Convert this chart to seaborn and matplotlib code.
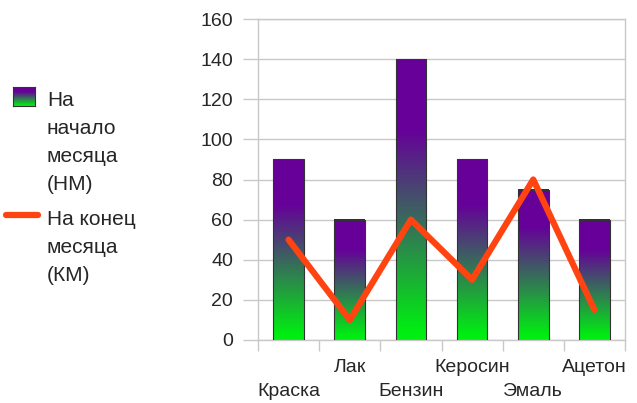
import numpy as np
import pandas as pd
import seaborn as sns
import matplotlib.pyplot as plt
from matplotlib.colors import to_rgb
from matplotlib.lines import Line2D
from matplotlib.transforms import ScaledTranslation

# данные
tovary = ['Краска', 'Лак', 'Бензин', 'Керосин', 'Эмаль', 'Ацетон']
nachalo = [90, 60, 140, 90, 75, 60]
konec = [50, 10, 60, 30, 80, 15]

df = pd.DataFrame({'Товар': tovary, 'НМ': nachalo, 'КМ': konec})

sns.set_style('white')
plt.rcParams['font.family'] = ['Liberation Sans', 'DejaVu Sans']

purple = np.array(to_rgb('#660099'))
green = np.array(to_rgb('#00ee11'))


def gradient(n=200):
    t = np.linspace(0, 1, n)
    t = np.clip((t - 0.03) / 0.72, 0, 1)
    img = green[None, :] * (1 - t[:, None]) + purple[None, :] * t[:, None]
    return img[:, None, :]


fig = plt.figure(figsize=(6.37, 4.03), dpi=100)
ax = fig.add_axes([258 / 637, 1 - 340 / 403, (625 - 258) / 637, (340 - 19) / 403])

sns.barplot(data=df, x='Товар', y='НМ', ax=ax, width=0.5, color='white',
            edgecolor='#333333', linewidth=0.8, zorder=3)

grad = gradient()
for p in ax.patches:
    x, w, h = p.get_x(), p.get_width(), p.get_height()
    p.set_facecolor('none')
    ax.imshow(grad, extent=[x, x + w, 0, h], aspect='auto', origin='lower',
              interpolation='bilinear', zorder=2.5)

sns.lineplot(x=np.arange(len(tovary)), y=konec, ax=ax, color='#ff4411',
             linewidth=4.5, zorder=4)

ax.set_xlim(-0.5, 5.5)
ax.set_ylim(0, 160)
ax.set_yticks(range(0, 161, 20))
ax.set_xticks(range(len(tovary)))
ax.set_xticklabels(tovary)
ax.set_xticks(np.arange(-0.5, 6, 1), minor=True)
ax.set_xlabel('')
ax.set_ylabel('')
ax.grid(axis='y', color='#c8c8c8', linewidth=1, zorder=0)
ax.set_axisbelow(True)
for s in ax.spines.values():
    s.set_color('#c8c8c8')
    s.set_linewidth(1)
ax.tick_params(axis='y', length=11, width=1, color='#c8c8c8', pad=7,
               labelsize=14, left=True)
ax.tick_params(axis='x', which='major', length=0, pad=14, labelsize=14)
ax.tick_params(axis='x', which='minor', length=8, width=1, color='#c8c8c8',
               bottom=True)

# подписи в два ряда: чётные ниже
shift = ScaledTranslation(0, -0.235, fig.dpi_scale_trans)
for i, lab in enumerate(ax.get_xticklabels()):
    if i % 2 == 0:
        lab.set_transform(lab.get_transform() + shift)

# легенда слева
lax = fig.add_axes([13 / 637, 1 - 106 / 403, 22 / 637, 19 / 403])
lax.imshow(gradient(), aspect='auto', origin='lower', extent=[0, 1, 0, 1])
lax.set_xticks([])
lax.set_yticks([])
for s in lax.spines.values():
    s.set_color('#333333')
    s.set_linewidth(0.8)

fig.add_artist(Line2D([6 / 637, 38 / 637], [1 - 215 / 403, 1 - 215 / 403],
                      color='#ff4411', linewidth=4.5))
fig.text(47 / 637, 1 - 91 / 403, 'На\nначало\nмесяца\n(НМ)', fontsize=15,
         va='top', ha='left', linespacing=1.6)
fig.text(47 / 637, 1 - 210 / 403, 'На конец\nмесяца\n(КМ)', fontsize=15,
         va='top', ha='left', linespacing=1.6)

fig.savefig('out.png', dpi=100)
